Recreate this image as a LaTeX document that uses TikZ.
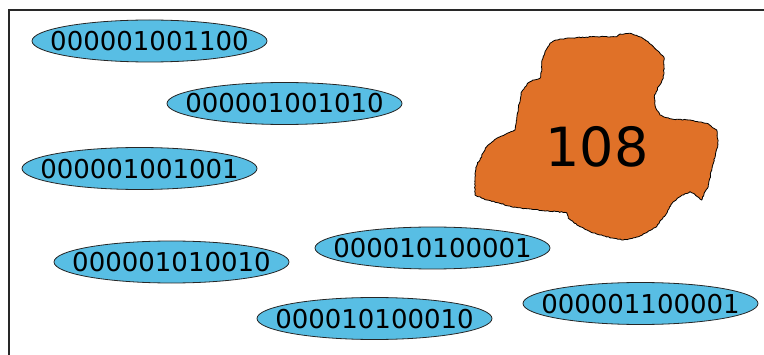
\documentclass[tikz,border=0pt]{standalone}
\usepackage{fontspec}
\setmainfont{DejaVu Sans}
\usetikzlibrary{shapes.geometric,decorations.pathmorphing}
\definecolor{cellblue}{RGB}{88,190,228}
\definecolor{blobor}{RGB}{224,113,40}
\definecolor{framegray}{RGB}{40,40,40}
\newcommand{\ctext}[1]{\makebox[0pt]{\smash{\raisebox{-9.5pt}{#1}}}}
\tikzset{
  cell/.style={ellipse, draw=black!85, line width=0.8pt, fill=cellblue,
    minimum width=235pt, minimum height=42pt, inner sep=0pt,
    font=\fontsize{26}{28}\selectfont},
  blob/.style={fill=blobor, draw=black, line width=0.8pt,
    decorate, decoration={random steps, segment length=1.8pt, amplitude=0.45pt}},
  framel/.style={draw=framegray, line width=1.4pt}
}
\begin{document}
\begin{tikzpicture}[x=1pt,y=1pt]
\useasboundingbox (0,0) rectangle (764,354);
\coordinate (fb) at (9,-2);
\coordinate (fc) at (9,344);
\coordinate (fr) at (766,344);
\draw[framel] (fb) -- (fc) -- (fr);
% blob region (relative to 597,207)
\begin{scope}[shift={(597,207)}]
\path[blob] (-47,103.7) -- (-42,106.8) -- (-37,108) -- (-20,109.5) -- (0,110.3) -- (19.7,110.3)
 -- (23,113) -- (33,113.7) -- (44.7,109.7) -- (50,106) -- (54.7,102) -- (59,97.5) -- (63,93.7)
 -- (67,89.7) -- (67,80) -- (66.3,68.7) -- (63.5,63) -- (61.3,60.3) -- (57.3,50.3) -- (57.7,44)
 -- (59.7,37) -- (63,32) -- (66.3,30.3) -- (76.3,27.7) -- (93,27) -- (109.7,23.7) -- (114,21)
 -- (119.7,17) -- (120.7,8) -- (120.7,0.3) -- (118.5,-7) -- (116.3,-16.3) -- (113.5,-28)
 -- (111.3,-39.7) -- (107,-47) -- (104.7,-53) -- (96.3,-46.3) -- (93,-44.7) -- (84,-49)
 -- (76.3,-54.7) -- (72.5,-60) -- (69.7,-66.3) -- (64,-73) -- (59.7,-79.7) -- (51,-84.5)
 -- (43,-89) -- (35,-91.5) -- (26.3,-93) -- (15,-91) -- (3,-88) -- (-7,-84.5) -- (-17,-79.7)
 -- (-28.7,-71.3) -- (-30.3,-65.7) -- (-41,-64.5) -- (-53.7,-63.7) -- (-70,-61.7) -- (-83.7,-60.3)
 -- (-98,-56) -- (-110.3,-53) -- (-122,-48) -- (-122,-36) -- (-121.5,-24) -- (-119.5,-15.5)
 -- (-117,-13) -- (-114,-6) -- (-110.3,0.3) -- (-105,5) -- (-100.3,8.7) -- (-91,13)
 -- (-82,17) -- (-80.3,27) -- (-78.5,40) -- (-75.3,55.3) -- (-72,60) -- (-68.7,64.3)
 -- (-63,67) -- (-57,68.7) -- (-55.3,76) -- (-55.3,85.3) -- (-52,95.3) -- cycle;
\end{scope}
\node[font=\fontsize{54}{60}\selectfont, inner sep=0pt] (b108) at (597,207) {108};
% cells
\node[cell] (c1) at (149.5,313) {\ctext{000001001100}};
\node[cell] (c2) at (284.5,250.5) {\ctext{000001001010}};
\node[cell] (c3) at (139.5,185.5) {\ctext{000001001001}};
\node[cell] (c4) at (432.5,106) {\ctext{000010100001}};
\node[cell] (c5) at (171.5,92) {\ctext{000001010010}};
\node[cell] (c6) at (640.5,50.5) {\ctext{000001100001}};
\node[cell] (c7) at (374.5,35.5) {\ctext{000010100010}};
\end{tikzpicture}
\end{document}
